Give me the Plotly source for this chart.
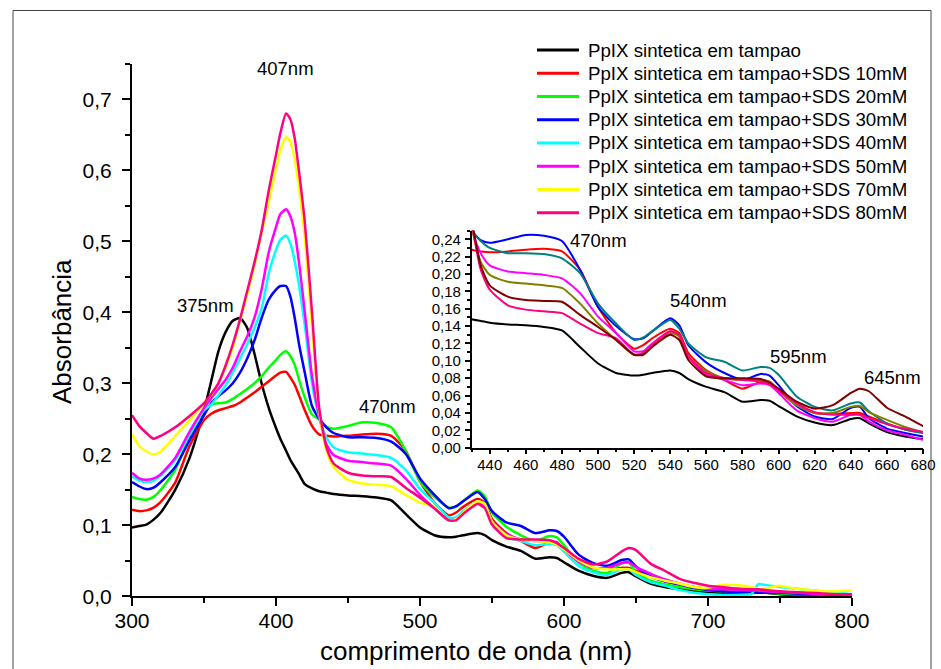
import plotly.graph_objects as go

# ---------------- data ----------------
WAVELENGTH = [300, 305, 310, 315, 320,
              330, 340, 350,
              355, 360, 365, 370, 375, 380, 385, 390, 395, 400,
              403, 407, 410, 413, 416, 420, 425, 430, 435, 440,
              450, 460, 470, 480, 490, 500, 510, 520,
              525, 530, 540, 545, 550,
              560, 570, 580, 590, 595, 600,
              610, 620, 630, 640, 645, 650, 660, 670, 680,
              690, 700, 710, 720, 730, 735, 740, 750,
              760, 770, 780, 790, 800]

SERIES_NAMES = [
    "PpIX sintetica em tampao",
    "PpIX sintetica em tampao+SDS 10mM",
    "PpIX sintetica em tampao+SDS 20mM",
    "PpIX sintetica em tampao+SDS 30mM",
    "PpIX sintetica em tampao+SDS 40mM",
    "PpIX sintetica em tampao+SDS 50mM",
    "PpIX sintetica em tampao+SDS 70mM",
    "PpIX sintetica em tampao+SDS 80mM",
]

ABS_TAMPAO = [0.097, 0.099, 0.101, 0.108, 0.118,
              0.150, 0.195, 0.262,
              0.303, 0.345, 0.372, 0.388, 0.392, 0.378, 0.342, 0.300, 0.265, 0.237,
              0.222, 0.205, 0.192, 0.182, 0.172, 0.158, 0.152, 0.148, 0.146, 0.144,
              0.142, 0.141, 0.139, 0.135, 0.116, 0.097, 0.086, 0.083,
              0.084, 0.086, 0.089, 0.086, 0.079,
              0.070, 0.064, 0.053, 0.055, 0.054, 0.048,
              0.036, 0.029, 0.026, 0.033, 0.034, 0.028, 0.018, 0.013, 0.010,
              0.008, 0.006, 0.005, 0.005, 0.005, 0.006, 0.005, 0.003,
              0.002, 0.002, 0.001, 0.001, 0.001]

ABS_SDS10 = [0.122, 0.120, 0.121, 0.125, 0.133,
             0.160, 0.212, 0.248,
             0.257, 0.262, 0.265, 0.268, 0.273, 0.280, 0.287, 0.295, 0.303, 0.311,
             0.315, 0.316, 0.308, 0.298, 0.283, 0.262, 0.240, 0.228, 0.226, 0.225,
             0.226, 0.228, 0.229, 0.226, 0.205, 0.162, 0.132, 0.114,
             0.118, 0.126, 0.137, 0.132, 0.109,
             0.089, 0.078, 0.068, 0.076, 0.076, 0.066,
             0.049, 0.040, 0.039, 0.040, 0.040, 0.036, 0.028, 0.021, 0.017,
             0.013, 0.010, 0.009, 0.008, 0.008, 0.007, 0.007, 0.006,
             0.005, 0.004, 0.003, 0.003, 0.002]

ABS_SDS20 = [0.140, 0.137, 0.136, 0.140, 0.150,
             0.178, 0.225, 0.262,
             0.270, 0.272, 0.273, 0.278, 0.285, 0.292, 0.300, 0.310, 0.322, 0.333,
             0.340, 0.345, 0.338, 0.326, 0.305, 0.280, 0.256, 0.249, 0.239, 0.236,
             0.240, 0.245, 0.244, 0.238, 0.205, 0.162, 0.140, 0.125,
             0.126, 0.134, 0.149, 0.141, 0.118,
             0.098, 0.086, 0.078, 0.085, 0.083, 0.072,
             0.048, 0.036, 0.033, 0.046, 0.047, 0.034, 0.022, 0.017, 0.013,
             0.010, 0.008, 0.007, 0.006, 0.005, 0.005, 0.005, 0.004,
             0.003, 0.003, 0.002, 0.002, 0.002]

ABS_SDS30 = [0.161, 0.155, 0.151, 0.153, 0.161,
             0.182, 0.220, 0.255,
             0.272, 0.282, 0.290, 0.300, 0.315, 0.335, 0.360, 0.392, 0.418, 0.432,
             0.437, 0.437, 0.422, 0.392, 0.355, 0.315, 0.268, 0.250, 0.238, 0.230,
             0.224, 0.224, 0.223, 0.218, 0.201, 0.166, 0.143, 0.124,
             0.127, 0.134, 0.147, 0.137, 0.120,
             0.104, 0.099, 0.089, 0.093, 0.092, 0.084,
             0.059, 0.047, 0.043, 0.051, 0.052, 0.042, 0.028, 0.021, 0.017,
             0.012, 0.009, 0.007, 0.006, 0.006, 0.005, 0.005, 0.005,
             0.004, 0.003, 0.003, 0.002, 0.002]

ABS_SDS40 = [0.169, 0.163, 0.161, 0.163, 0.170,
             0.192, 0.228, 0.262,
             0.270, 0.283, 0.297, 0.315, 0.335, 0.355, 0.378, 0.405, 0.455, 0.488,
             0.502, 0.508, 0.497, 0.472, 0.438, 0.382, 0.300, 0.252, 0.224, 0.210,
             0.203, 0.201, 0.199, 0.195, 0.178, 0.151, 0.132, 0.111,
             0.111, 0.120, 0.134, 0.128, 0.105,
             0.084, 0.078, 0.072, 0.074, 0.072, 0.063,
             0.043, 0.034, 0.030, 0.038, 0.038, 0.030, 0.020, 0.015, 0.009,
             0.005, 0.003, 0.002, 0.002, 0.003, 0.017, 0.016, 0.013,
             0.011, 0.009, 0.007, 0.005, 0.003]

ABS_SDS50 = [0.174, 0.166, 0.164, 0.166, 0.172,
             0.195, 0.232, 0.265,
             0.279, 0.292, 0.305, 0.322, 0.345, 0.366, 0.392, 0.432, 0.485, 0.520,
             0.538, 0.545, 0.535, 0.512, 0.470, 0.400, 0.310, 0.254, 0.214, 0.199,
             0.191, 0.189, 0.187, 0.184, 0.166, 0.143, 0.124, 0.107,
             0.109, 0.118, 0.132, 0.128, 0.105,
             0.088, 0.080, 0.078, 0.078, 0.076, 0.066,
             0.049, 0.040, 0.040, 0.047, 0.048, 0.041, 0.032, 0.024, 0.018,
             0.013, 0.010, 0.010, 0.009, 0.008, 0.008, 0.007, 0.006,
             0.005, 0.004, 0.003, 0.003, 0.002]

ABS_SDS70 = [0.228, 0.212, 0.204, 0.200, 0.204,
             0.226, 0.248, 0.272,
             0.284, 0.300, 0.322, 0.350, 0.388, 0.425, 0.465, 0.512, 0.555, 0.602,
             0.628, 0.647, 0.640, 0.615, 0.575, 0.505, 0.380, 0.262, 0.205, 0.182,
             0.164, 0.159, 0.157, 0.155, 0.143, 0.132, 0.126, 0.107,
             0.109, 0.118, 0.134, 0.130, 0.105,
             0.086, 0.080, 0.078, 0.076, 0.073, 0.066,
             0.051, 0.041, 0.038, 0.038, 0.038, 0.034, 0.027, 0.022, 0.018,
             0.013, 0.012, 0.016, 0.016, 0.013, 0.010, 0.011, 0.015,
             0.011, 0.009, 0.007, 0.007, 0.008]

ABS_SDS80 = [0.255, 0.240, 0.230, 0.222, 0.226,
             0.238, 0.254, 0.272,
             0.285, 0.300, 0.325, 0.355, 0.390, 0.430, 0.470, 0.515, 0.572, 0.622,
             0.652, 0.680, 0.672, 0.645, 0.598, 0.527, 0.400, 0.265, 0.210, 0.187,
             0.174, 0.170, 0.169, 0.168, 0.153, 0.139, 0.124, 0.107,
             0.107, 0.116, 0.130, 0.124, 0.101,
             0.082, 0.080, 0.080, 0.079, 0.075, 0.068,
             0.053, 0.045, 0.049, 0.063, 0.068, 0.065, 0.046, 0.036, 0.025,
             0.019, 0.015, 0.013, 0.011, 0.010, 0.010, 0.009, 0.007,
             0.006, 0.005, 0.004, 0.003, 0.003]

ALL_SERIES = [ABS_TAMPAO, ABS_SDS10, ABS_SDS20, ABS_SDS30,
              ABS_SDS40, ABS_SDS50, ABS_SDS70, ABS_SDS80]

MAIN_COLORS = ["#000000", "#FF0000", "#00FF00", "#0000FF",
               "#00FFFF", "#FF00FF", "#FFFF00", "#FF0080"]
INSET_COLORS = ["#000000", "#FF0000", "#0000FF", "#008080",
                "#FF00FF", "#808000", "#FF0080", "#800000"]

X_TICKS = [300, 400, 500, 600, 700, 800]
Y_TICKS = [0.0, 0.1, 0.2, 0.3, 0.4, 0.5, 0.6, 0.7]
Y_TICK_LABELS = ["0,0", "0,1", "0,2", "0,3", "0,4", "0,5", "0,6", "0,7"]
INSET_X_TICKS = [440, 460, 480, 500, 520, 540, 560, 580, 600, 620, 640, 660, 680]
INSET_Y_TICKS = [0.00, 0.02, 0.04, 0.06, 0.08, 0.10, 0.12, 0.14, 0.16, 0.18, 0.20, 0.22, 0.24]
INSET_Y_TICK_LABELS = ["0,00", "0,02", "0,04", "0,06", "0,08", "0,10", "0,12",
                       "0,14", "0,16", "0,18", "0,20", "0,22", "0,24"]

MAIN_PEAK_LABELS = [("407nm", 406.3, 0.744), ("375nm", 350.7, 0.409), ("470nm", 477.6, 0.267)]
INSET_PEAK_LABELS = [("470nm", 500.4, 0.239), ("540nm", 555.5, 0.170),
                     ("595nm", 610.8, 0.105), ("645nm", 662.9, 0.081)]

# ---------------- figure ----------------
W, H = 941, 669
FONT = "Liberation Sans, Arial, sans-serif"


def px(x):
    return x / W


def py(y):
    return 1 - y / H


fig = go.Figure()

for name, vals, col in zip(SERIES_NAMES, ALL_SERIES, MAIN_COLORS):
    fig.add_trace(go.Scatter(x=WAVELENGTH, y=vals, mode="lines", name=name,
                             line=dict(color=col, width=2.5, shape="spline", smoothing=0.6),
                             xaxis="x", yaxis="y", showlegend=False))

for name, vals, col in zip(SERIES_NAMES, ALL_SERIES, INSET_COLORS):
    fig.add_trace(go.Scatter(x=WAVELENGTH, y=vals, mode="lines", name=name + " (detalhe)",
                             line=dict(color=col, width=2, shape="spline", smoothing=0.6),
                             xaxis="x2", yaxis="y2", showlegend=False))

axis_common = dict(showline=True, linecolor="black", showgrid=False, zeroline=False,
                   ticks="outside", tickcolor="black", mirror=False, automargin=False)

fig.update_layout(
    width=W, height=H,
    margin=dict(l=0, r=0, t=0, b=0, autoexpand=False),
    paper_bgcolor="white", plot_bgcolor="rgba(0,0,0,0)",
    showlegend=False,
    font=dict(family=FONT, color="black"),
    xaxis=dict(domain=[px(132), px(852)], range=[300, 800], anchor="y",
               tickmode="array", tickvals=X_TICKS, ticktext=[str(v) for v in X_TICKS],
               linewidth=2, ticklen=8, tickwidth=2, tickfont=dict(size=21),
               ticklabelstandoff=-4,
               minor=dict(tickmode="linear", tick0=300, dtick=50, ticklen=5,
                          tickwidth=2, tickcolor="black", ticks="outside", showgrid=False),
               **axis_common),
    yaxis=dict(domain=[py(596.3), py(63.8)], range=[0, 0.75], anchor="x",
               tickmode="array", tickvals=Y_TICKS, ticktext=Y_TICK_LABELS,
               linewidth=2, ticklen=8, tickwidth=2, tickfont=dict(size=21),
               ticklabelstandoff=6,
               minor=dict(tickmode="linear", tick0=0, dtick=0.05, ticklen=5,
                          tickwidth=2, tickcolor="black", ticks="outside", showgrid=False),
               **axis_common),
    xaxis2=dict(domain=[px(471.7), px(923)], range=[430, 680], anchor="y2",
                tickmode="array", tickvals=INSET_X_TICKS,
                ticktext=[str(v) for v in INSET_X_TICKS],
                linewidth=1.5, ticklen=5, tickwidth=1.5, tickfont=dict(size=15),
                ticklabelstandoff=-2,
                minor=dict(tickmode="linear", tick0=430, dtick=10, ticklen=3,
                           tickwidth=1.5, tickcolor="black", ticks="outside", showgrid=False),
                **axis_common),
    yaxis2=dict(domain=[py(447.7), py(230.6)], range=[0, 0.25], anchor="x2",
                tickmode="array", tickvals=INSET_Y_TICKS, ticktext=INSET_Y_TICK_LABELS,
                linewidth=1.5, ticklen=5, tickwidth=1.5, tickfont=dict(size=15),
                ticklabelstandoff=1,
                minor=dict(tickmode="linear", tick0=0, dtick=0.01, ticklen=3,
                           tickwidth=1.5, tickcolor="black", ticks="outside", showgrid=False),
                **axis_common),
)

annotations = []
for txt, xv, yv in MAIN_PEAK_LABELS:
    annotations.append(dict(text=txt, x=xv, y=yv, xref="x", yref="y", showarrow=False,
                            xanchor="center", yanchor="middle", font=dict(size=18.5)))
for txt, xv, yv in INSET_PEAK_LABELS:
    annotations.append(dict(text=txt, x=xv, y=yv, xref="x2", yref="y2", showarrow=False,
                            xanchor="center", yanchor="middle", font=dict(size=18.5)))

# axis titles
annotations.append(dict(text="comprimento de onda (nm)", x=px(476), y=py(651),
                        xref="paper", yref="paper", showarrow=False,
                        xanchor="center", yanchor="middle", font=dict(size=26)))
annotations.append(dict(text="Absorbância", x=px(62), y=py(331), textangle=-90,
                        xref="paper", yref="paper", showarrow=False,
                        xanchor="center", yanchor="middle", font=dict(size=26)))

shapes = []
# legend (manual)
legend_y0, legend_dy = 50.0, 23.24
for i, (name, col) in enumerate(zip(SERIES_NAMES, MAIN_COLORS)):
    yy = legend_y0 + i * legend_dy
    shapes.append(dict(type="line", xref="paper", yref="paper",
                       x0=px(537), x1=px(579), y0=py(yy), y1=py(yy),
                       line=dict(color=col, width=3)))
    annotations.append(dict(text=name, x=px(586), y=py(yy), xref="paper", yref="paper",
                            showarrow=False, xanchor="left", yanchor="middle",
                            font=dict(size=18.7)))

# outer frame
shapes.append(dict(type="rect", xref="paper", yref="paper",
                   x0=px(13), x1=px(931), y0=py(10.5), y1=py(700),
                   line=dict(color="#444444", width=1), fillcolor="rgba(0,0,0,0)"))

fig.update_layout(annotations=annotations, shapes=shapes)

fig.write_html("out.html")
